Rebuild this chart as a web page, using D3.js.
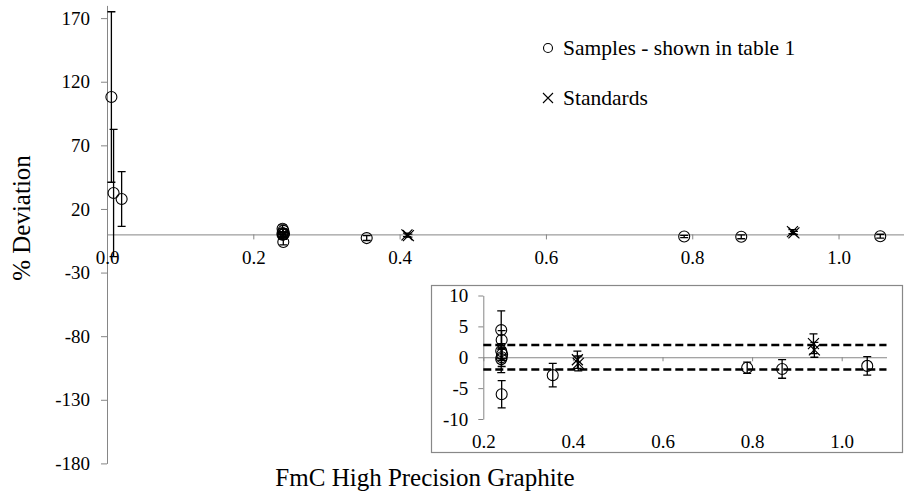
<!DOCTYPE html>
<html>
<head>
<meta charset="utf-8">
<script src="https://cdn.jsdelivr.net/npm/d3@7"></script>
<style>
  body { margin: 0; background: #fff; }
  svg { display: block; font-family: "Times New Roman", "Liberation Serif", serif; }
  .axis path, .axis line { stroke: #868686; }
</style>
</head>
<body>
<svg id="chart" width="904" height="492"></svg>
<script>
// Samples - shown in table 1
const sampleX   = [0.006, 0.009, 0.020, 0.240, 0.241, 0.240, 0.242, 0.241, 0.240, 0.241, 0.355, 0.789, 0.867, 1.057];
const sampleY   = [108, 32.5, 27.8, 4.4, 2.8, 1.0, 0.5, 0.0, -0.3, -6.0, -2.9, -1.7, -1.9, -1.4];
const sampleErr = [67, 50, 21.5, 3.1, 1.5, 1.2, 1.0, 1.5, 2.2, 2.2, 1.9, 0.9, 1.5, 1.5];

// Standards
const standardX   = [0.410, 0.412, 0.937, 0.939];
const standardY   = [-0.4, -1.0, 2.2, 1.2];
const standardErr = [1.4, 1.2, 1.6, 1.2];

// tick labels
const mainYTicks  = [-180, -130, -80, -30, 20, 70, 120, 170];
const mainXTicks  = [0, 0.2, 0.4, 0.6, 0.8, 1.0];
const insetYTicks = [-10, -5, 0, 5, 10];
const insetXTicks = [0.2, 0.4, 0.6, 0.8, 1.0];
const limitLines  = [2, -2];

const samples = sampleX.map((x, i) => ({ x, y: sampleY[i], e: sampleErr[i] }));
const standards = standardX.map((x, i) => ({ x, y: standardY[i], e: standardErr[i] }));

const FONT = 'Liberation Serif, Times New Roman, serif';
const svg = d3.select('#chart');
const fmt = d3.format('.1f');
const intFmt = d => String(d);   // plain hyphen minus, like the original
const CAP = 4;
const crossPath = s => `M${-s},${-s}L${s},${s}M${-s},${s}L${s},${-s}`;

// d3.axis puts font-family="sans-serif" on its group; swap it for the serif face
const serifTicks = size => g => {
  g.attr('font-family', FONT).attr('font-size', size);
  g.selectAll('text').attr('fill', '#000');
};

function drawSeries(g, x, y, keep) {
  const all = samples.concat(standards).filter(keep);
  // error bars
  g.append('g').attr('class', 'errorbars')
    .attr('stroke', '#000').attr('stroke-width', 1.3).attr('fill', 'none')
    .selectAll('path').data(all).join('path')
    .attr('d', d => {
      const cx = x(d.x), y0 = y(d.y - d.e), y1 = y(d.y + d.e);
      return `M${cx},${y0}V${y1}M${cx - CAP},${y0}H${cx + CAP}M${cx - CAP},${y1}H${cx + CAP}`;
    });

  g.append('g').selectAll('circle').data(samples.filter(keep)).join('circle')
    .attr('cx', d => x(d.x)).attr('cy', d => y(d.y)).attr('r', 5.5)
    .attr('fill', 'none').attr('stroke', '#000').attr('stroke-width', 1.1);

  g.append('g').selectAll('path').data(standards.filter(keep)).join('path')
    .attr('transform', d => `translate(${x(d.x)},${y(d.y)})`)
    .attr('d', crossPath(5.5))
    .attr('fill', 'none').attr('stroke', '#000').attr('stroke-width', 1.2);
}

// ---------- main chart ----------
const x = d3.scaleLinear().domain([0, 1.1]).range([107, 911.7]);
const y = d3.scaleLinear().domain([-180, 180]).range([463.4, 5.4]);

svg.append('g').attr('class', 'axis')
  .attr('transform', `translate(${x(0)},0)`)
  .call(d3.axisLeft(y).tickValues(mainYTicks).tickFormat(intFmt).tickSize(6).tickSizeOuter(0).tickPadding(11))
  .call(serifTicks(19));

svg.append('g').attr('class', 'axis')
  .attr('transform', `translate(0,${y(0)})`)
  .call(d3.axisBottom(x).tickValues(mainXTicks).tickFormat(fmt).tickSize(5).tickSizeOuter(0).tickPadding(11))
  .call(serifTicks(19));

drawSeries(svg.append('g'), x, y, () => true);

// axis titles
svg.append('text')
  .attr('transform', 'translate(30,218) rotate(-90)')
  .attr('text-anchor', 'middle')
  .style('font-size', '25px')
  .text('% Deviation');

svg.append('text')
  .attr('x', 425).attr('y', 486)
  .attr('text-anchor', 'middle')
  .style('font-size', '25px')
  .text('FmC High Precision Graphite');

// legend
const legend = svg.append('g').attr('class', 'legend').style('font-size', '21.5px');
legend.append('circle').attr('cx', 548).attr('cy', 48).attr('r', 4.5)
  .attr('fill', 'none').attr('stroke', '#000').attr('stroke-width', 1.1);
legend.append('text').attr('x', 563).attr('y', 55).text('Samples - shown in table 1');
legend.append('path').attr('transform', 'translate(548,98)').attr('d', crossPath(5))
  .attr('fill', 'none').attr('stroke', '#000').attr('stroke-width', 1.1);
legend.append('text').attr('x', 563).attr('y', 105).text('Standards');

// ---------- inset ----------
const inset = svg.append('g').attr('class', 'inset');
inset.append('rect')
  .attr('x', 431.5).attr('y', 285.5).attr('width', 471).attr('height', 167)
  .attr('fill', '#fff').attr('stroke', '#888').attr('stroke-width', 1.2);

const ix = d3.scaleLinear().domain([0.2, 1.1]).range([483.3, 886.5]);
const iy = d3.scaleLinear().domain([-10, 10]).range([419, 295.5]);

inset.append('g').attr('class', 'axis')
  .attr('transform', `translate(${ix(0.2)},0)`)
  .call(d3.axisLeft(iy).tickValues(insetYTicks).tickFormat(intFmt).tickSize(5).tickSizeOuter(0).tickPadding(10))
  .call(serifTicks(19));

// zero line with ticks
inset.append('g').attr('class', 'axis')
  .attr('transform', `translate(0,${iy(0)})`)
  .call(d3.axisBottom(ix).tickValues(insetXTicks).tickFormat('').tickSize(4).tickSizeOuter(0));

// labels at the low position
inset.append('g').attr('class', 'axis')
  .attr('transform', 'translate(0,434)')
  .call(d3.axisBottom(ix).tickValues(insetXTicks).tickFormat(fmt).tickSize(0).tickPadding(0))
  .call(g => g.select('.domain').remove())
  .call(serifTicks(19));

inset.append('g').selectAll('line').data(limitLines).join('line')
  .attr('x1', ix(0.2)).attr('x2', ix(1.1))
  .attr('y1', d => iy(d)).attr('y2', d => iy(d))
  .attr('stroke', '#000').attr('stroke-width', 2.5).attr('stroke-dasharray', '8,4');

drawSeries(inset.append('g'), ix, iy, d => d.x >= 0.2);
</script>
</body>
</html>
